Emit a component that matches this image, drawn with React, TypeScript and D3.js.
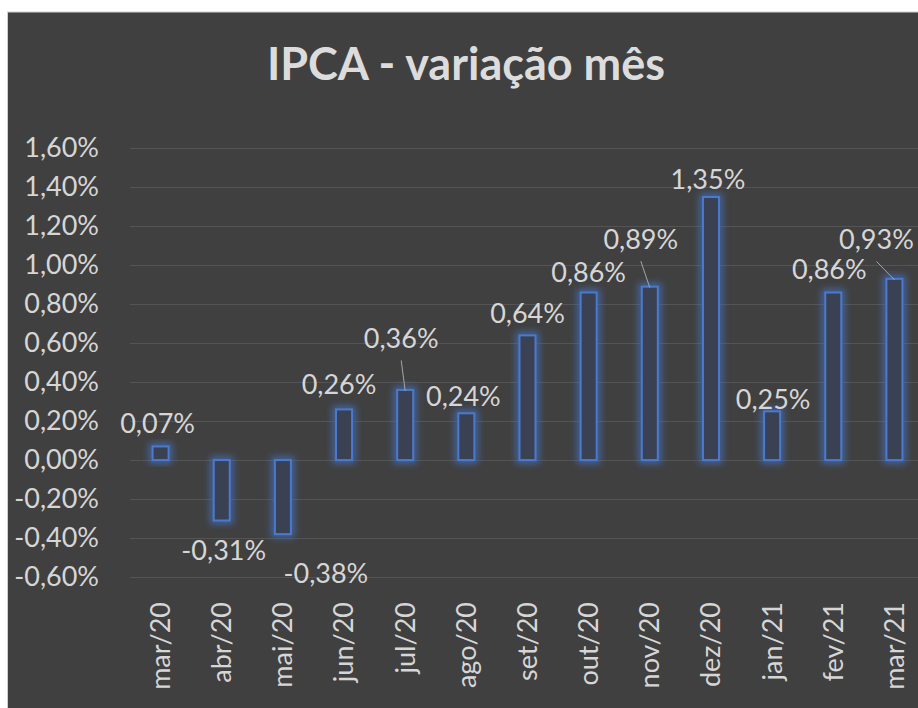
import React from 'react';
import * as d3 from 'd3';

// IPCA monthly variation (%)
const months = ['mar/20', 'abr/20', 'mai/20', 'jun/20', 'jul/20', 'ago/20', 'set/20', 'out/20', 'nov/20', 'dez/20', 'jan/21', 'fev/21', 'mar/21'];
const values = [0.07, -0.31, -0.38, 0.26, 0.36, 0.24, 0.64, 0.86, 0.89, 1.35, 0.25, 0.86, 0.93];
const yTicks = [-0.6, -0.4, -0.2, 0, 0.2, 0.4, 0.6, 0.8, 1.0, 1.2, 1.4, 1.6];

// labels that were dragged around by hand in the original sheet (px nudges + leader line)
const labelNudges: [number, number, boolean][] = [
  [-3, -5, false], [2, 12, false], [43, 21, false], [-5, -7, false], [-4, -34, true],
  [-3, 1, false], [0, -4, false], [0, -2, false], [-9, -30, true], [-3, 0, false],
  [1, 6, false], [-4, -5, false], [-18, -22, true],
];

const W = 918;
const H = 708;
const FONT = 'Lato, "Open Sans", sans-serif';
const TEXT = '#d6d6d6';

const fmt = (v: number) => v.toFixed(2).replace('.', ',') + '%';

export default function App() {
  const x = d3.scaleBand<string>().domain(months).range([130, 925]).paddingInner(0.738).paddingOuter(0.369);
  const y = d3.scaleLinear().domain([-0.6, 1.6]).range([577, 148.3]);
  const bw = x.bandwidth();

  return (
    <svg width={W} height={H} style={{ position: 'absolute', left: 0, top: 0 }}>
      <defs>
        <filter id="glow" x="-80%" y="-50%" width="260%" height="200%">
          <feGaussianBlur stdDeviation="3.5" />
        </filter>
      </defs>
      <rect x={0} y={0} width={W} height={H} fill="#fff" />
      <rect x={7.5} y={12} width={W} height={H} fill="#404040" stroke="#cfcfcf" strokeWidth={1} />

      <text x={466} y={80} textAnchor="middle" fill="#dcdcdc" fontFamily={FONT} fontWeight={700} fontSize={45}>
        IPCA - variação mês
      </text>

      {/* gridlines + y tick labels */}
      {yTicks.map(t => (
        <g key={t}>
          <line x1={130} x2={W} y1={Math.round(y(t)) + 0.5} y2={Math.round(y(t)) + 0.5} stroke="#545454" strokeWidth={1} />
          <text x={99} y={y(t)} dy="0.33em" textAnchor="end" fill={TEXT} fontFamily={FONT} fontSize={27}>
            {fmt(t)}
          </text>
        </g>
      ))}

      {/* bars */}
      {values.map((v, i) => {
        const x0 = x(months[i])!;
        const top = Math.min(y(v), y(0));
        const h = Math.abs(y(v) - y(0));
        return (
          <g key={months[i]}>
            <rect x={x0} y={top} width={bw} height={h} fill="none" stroke="#4472c4" strokeWidth={7} opacity={0.75} filter="url(#glow)" />
            <rect x={x0} y={top} width={bw} height={h} fill="#394152" stroke="#4a7ad0" strokeWidth={2} />
          </g>
        );
      })}

      {/* data labels */}
      {values.map((v, i) => {
        const cx = x(months[i])! + bw / 2;
        const [dx, dy, leader] = labelNudges[i];
        const base = v >= 0 ? y(v) - 8 : y(v) + 28;
        const lx = cx + dx;
        const ly = base + dy;
        return (
          <g key={'l' + i}>
            {leader && <line x1={lx} y1={ly + 12.5} x2={cx} y2={y(v) + 1} stroke="#a6a6a6" strokeWidth={1} />}
            <text x={lx} y={ly} textAnchor="middle" fill={TEXT} fontFamily={FONT} fontSize={27}>
              {fmt(v)}
            </text>
          </g>
        );
      })}

      {/* x axis labels */}
      {months.map(m => (
        <text
          key={m}
          transform={`translate(${x(m)! + bw / 2},602) rotate(-90)`}
          dy="0.35em"
          textAnchor="end"
          fill={TEXT}
          fontFamily={FONT}
          fontSize={27}
        >
          {m}
        </text>
      ))}
    </svg>
  );
}
